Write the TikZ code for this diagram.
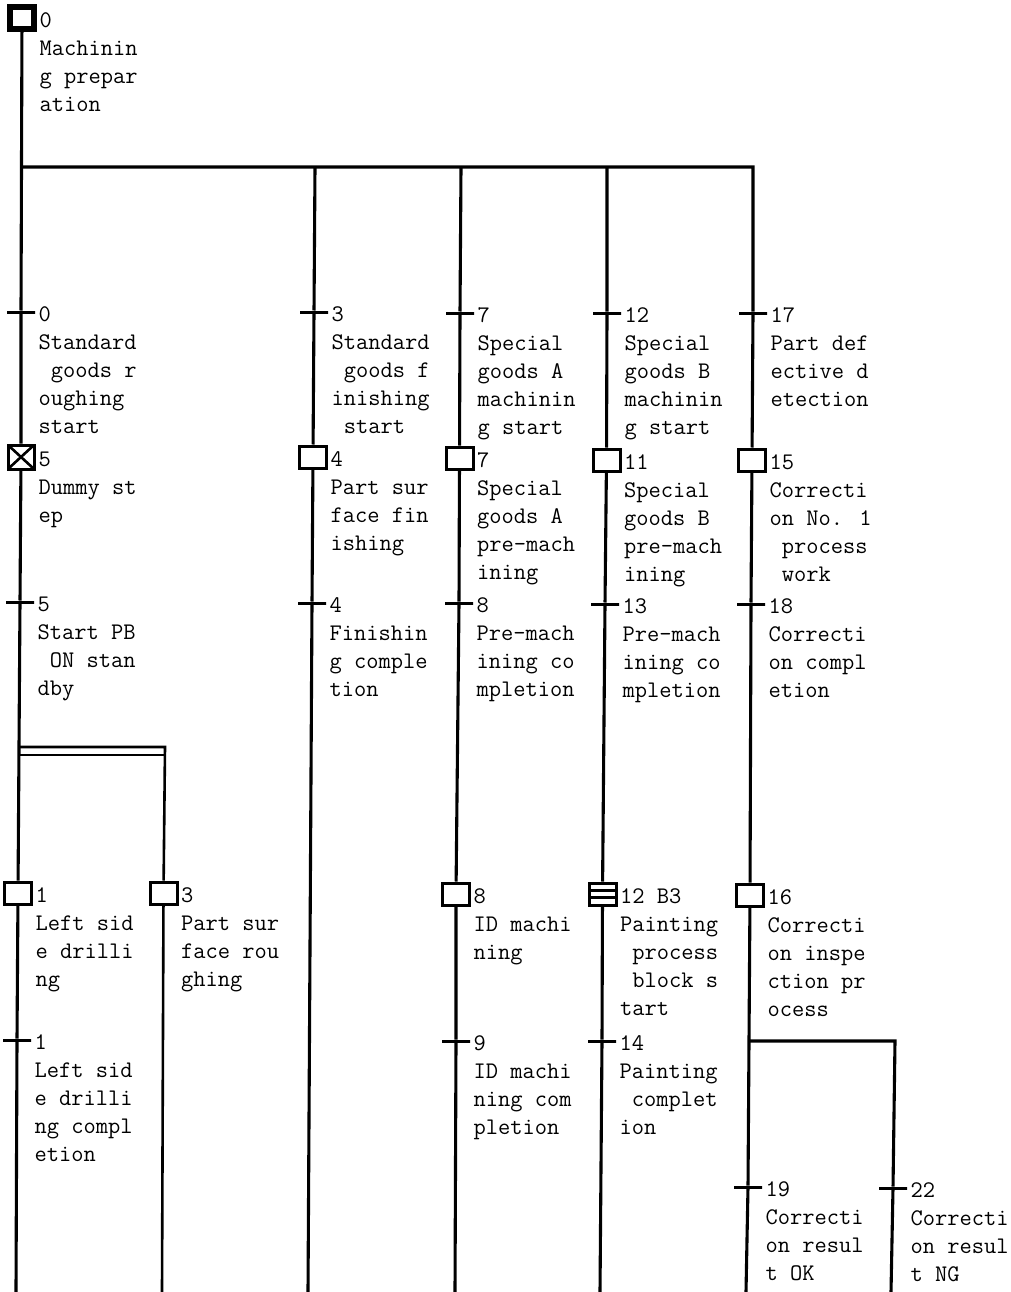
\documentclass[tikz,border=0pt]{standalone}
\usepackage{fontspec}
\usepackage{tikz}
\usetikzlibrary{positioning}
\newcommand{\padch}{\hphantom{x}}

\begin{document}
\begin{tikzpicture}[x=1pt, y=-1pt, line width=3.1pt, line join=miter]
    \tikzstyle{init} = [rectangle, draw, line width=5.2pt, minimum width=24pt, minimum height=22pt, inner sep=0pt]
    \tikzstyle{stepbox} = [rectangle, draw, line width=3pt, minimum width=27pt, minimum height=22pt, inner sep=0pt]
    \tikzstyle{dummy} = [stepbox, minimum width=26pt, minimum height=24pt, path picture={
        \draw[line width=2.6pt] (path picture bounding box.north west) -- (path picture bounding box.south east)
            (path picture bounding box.north east) -- (path picture bounding box.south west);}]
    \tikzstyle{macro} = [stepbox, path picture={
        \draw[line width=2.6pt] ([yshift=3.7pt]path picture bounding box.west) -- ([yshift=3.7pt]path picture bounding box.east)
            ([yshift=-3.7pt]path picture bounding box.west) -- ([yshift=-3.7pt]path picture bounding box.east);}]
    \tikzstyle{trans} = [rectangle, draw, line width=3pt, minimum width=28pt, minimum height=0pt, inner sep=0pt]
    \tikzstyle{tag} = [anchor=north west, inner sep=0pt, xshift=16pt, yshift=7pt, align=left, font=\ttfamily\fontsize{23.8}{28}\selectfont]

    \useasboundingbox (0,0) rectangle (1011,1292);

    % column A
    \node[init] (s0) at (22,18) {};
    \node[tag] (s0txt) at (s0) {0\\Machinin\\g prepar\\ation};
    \node[trans] (t0) at (21,312) {};
    \node[tag] (t0txt) at (t0) {0\\Standard\\\padch goods r\\oughing\\start};
    \node[dummy] (s5) at (21,457) {};
    \node[tag] (s5txt) at (s5) {5\\Dummy st\\ep};
    \node[trans] (t5) at (20,602) {};
    \node[tag] (t5txt) at (t5) {5\\Start PB\\\padch ON stan\\dby};
    \node[stepbox] (s1) at (18,893) {};
    \node[tag] (s1txt) at (s1) {1\\Left sid\\e drilli\\ng};
    \node[trans] (t1) at (17,1040) {};
    \node[tag] (t1txt) at (t1) {1\\Left sid\\e drilli\\ng compl\\etion};

    % column A, second branch
    \node[stepbox] (s3) at (163.5,893) {};
    \node[tag] (s3txt) at (s3) {3\\Part sur\\face rou\\ghing};

    % column B
    \node[trans] (t3) at (314,312) {};
    \node[tag] (t3txt) at (t3) {3\\Standard\\\padch goods f\\inishing\\\padch start};
    \node[stepbox] (s4) at (313,457) {};
    \node[tag] (s4txt) at (s4) {4\\Part sur\\face fin\\ishing};
    \node[trans] (t4) at (312,603) {};
    \node[tag] (t4txt) at (t4) {4\\Finishin\\g comple\\tion};

    % column C
    \node[trans] (t7) at (460,313) {};
    \node[tag] (t7txt) at (t7) {7\\Special\\goods A\\machinin\\g start};
    \node[stepbox] (s7) at (459.5,458) {};
    \node[tag] (s7txt) at (s7) {7\\Special\\goods A\\pre-mach\\ining};
    \node[trans] (t8) at (459,603) {};
    \node[tag] (t8txt) at (t8) {8\\Pre-mach\\ining co\\mpletion};
    \node[stepbox] (s8) at (456,894) {};
    \node[tag] (s8txt) at (s8) {8\\ID machi\\ning};
    \node[trans] (t9) at (456,1041) {};
    \node[tag] (t9txt) at (t9) {9\\ID machi\\ning com\\pletion};

    % column D
    \node[trans] (t12) at (607,313) {};
    \node[tag] (t12txt) at (t12) {12\\Special\\goods B\\machinin\\g start};
    \node[stepbox] (s11) at (606.5,460) {};
    \node[tag] (s11txt) at (s11) {11\\Special\\goods B\\pre-mach\\ining};
    \node[trans] (t13) at (605,604) {};
    \node[tag] (t13txt) at (t13) {13\\Pre-mach\\ining co\\mpletion};
    \node[macro] (s12) at (602.5,894) {};
    \node[tag] (s12txt) at (s12) {12 B3\\Painting\\\padch process\\\padch block s\\tart};
    \node[trans] (t14) at (602,1041) {};
    \node[tag] (t14txt) at (t14) {14\\Painting\\\padch complet\\ion};

    % column E
    \node[trans] (t17) at (753,313) {};
    \node[tag] (t17txt) at (t17) {17\\Part def\\ective d\\etection};
    \node[stepbox] (s15) at (752,460) {};
    \node[tag] (s15txt) at (s15) {15\\Correcti\\on No. 1\\\padch process\\\padch work};
    \node[trans] (t18) at (751,604) {};
    \node[tag] (t18txt) at (t18) {18\\Correcti\\on compl\\etion};
    \node[stepbox] (s16) at (750,895) {};
    \node[tag] (s16txt) at (s16) {16\\Correcti\\on inspe\\ction pr\\ocess};
    \node[trans] (t19) at (748,1187) {};
    \node[tag] (t19txt) at (t19) {19\\Correcti\\on resul\\t OK};

    % column F
    \node[trans] (t22) at (893,1188) {};
    \node[tag] (t22txt) at (t22) {22\\Correcti\\on resul\\t NG};

    % branch points and open ends
    \coordinate (b0) at (21.5,167);
    \coordinate (b0e) at (753,167);
    \coordinate (b3) at (315,167);
    \coordinate (b7) at (461,167);
    \coordinate (b12) at (607,167);
    \coordinate (d1) at (19,747);
    \coordinate (d1r) at (165,747);
    \coordinate (d2) at (19,755);
    \coordinate (d2r) at (165,755);
    \coordinate (b16) at (749,1041);
    \coordinate (b16r) at (895,1041);
    \coordinate (eA) at (16,1292);
    \coordinate (eA2) at (162,1292);
    \coordinate (eB) at (308,1292);
    \coordinate (eC) at (455,1292);
    \coordinate (eD) at (600,1292);
    \coordinate (eE) at (746,1292);
    \coordinate (eF) at (891,1292);

    % flow lines
    \draw (s0) -- (t0) -- (s5) -- (t5) -- (s1) -- (t1) -- (eA);
    \draw[line width=2.6pt] (d1) -- (d1r) -- (s3) -- (eA2);
    \draw[line width=2.6pt] (d2) -- (d2r);
    \draw (b0) -- (b0e) -- (t17) -- (s15) -- (t18) -- (s16) -- (t19) -- (eE);
    \draw (b3) -- (t3) -- (s4) -- (t4) -- (eB);
    \draw (b7) -- (t7) -- (s7) -- (t8) -- (s8) -- (t9) -- (eC);
    \draw (b12) -- (t12) -- (s11) -- (t13) -- (s12) -- (t14) -- (eD);
    \draw (b16) -- (b16r) -- (t22) -- (eF);
\end{tikzpicture}
\end{document}
